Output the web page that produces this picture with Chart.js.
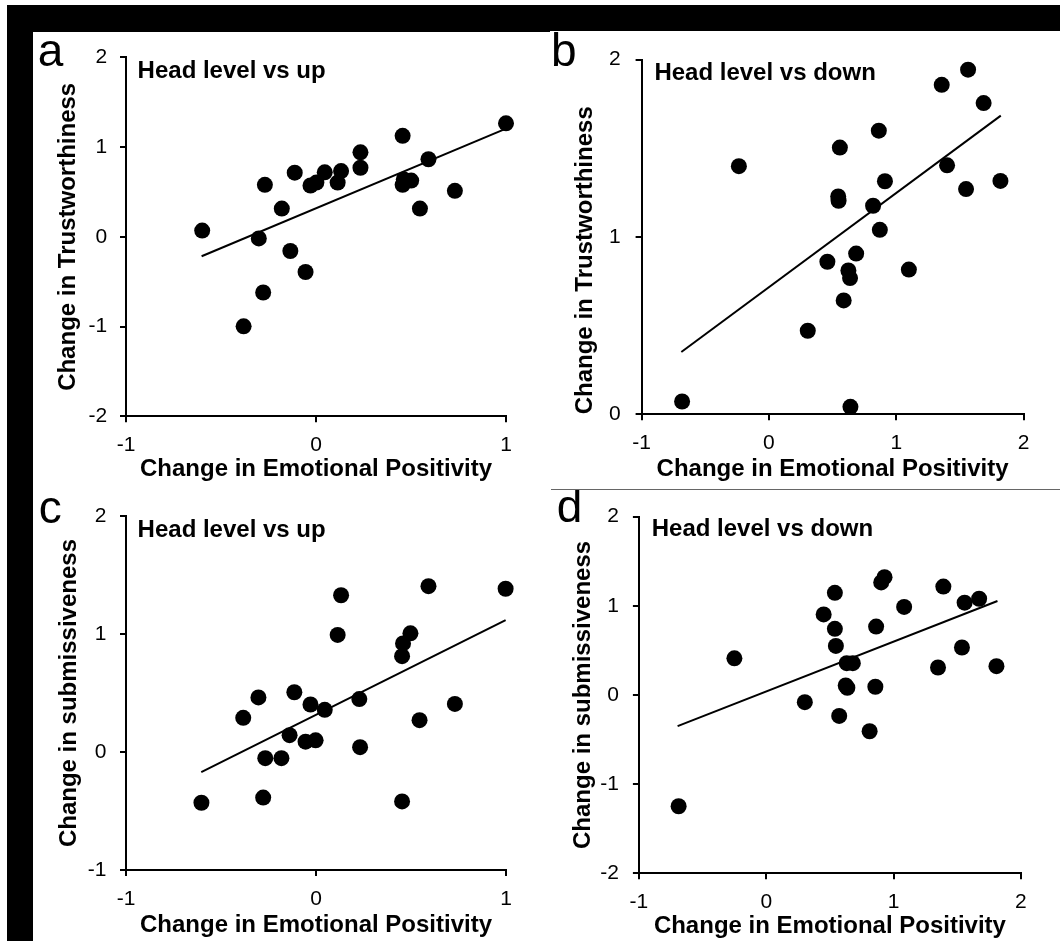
<!DOCTYPE html>
<html><head><meta charset="utf-8">
<script src="https://cdn.jsdelivr.net/npm/chart.js@4.4.1/dist/chart.umd.min.js"></script>
<style>
html,body{margin:0;padding:0;background:#fff;}
body{width:1060px;height:941px;position:relative;overflow:hidden;}
.blk{position:absolute;background:#000;}
.wrap{position:absolute;}
canvas{display:block;}
</style></head><body>
<div class="blk" style="left:7px;top:5px;width:543px;height:27px"></div>
<div class="blk" style="left:550px;top:5px;width:510px;height:26px"></div>
<div class="blk" style="left:7px;top:5px;width:26px;height:936px"></div>
<div style="position:absolute;left:551px;top:489px;width:509px;height:1px;background:#666"></div>
<div class="wrap" style="left:33px;top:32px"><canvas id="ca" width="497" height="457"></canvas></div>
<div class="wrap" style="left:530px;top:32px"><canvas id="cb" width="530" height="457"></canvas></div>
<div class="wrap" style="left:33px;top:490px"><canvas id="cc" width="497" height="451"></canvas></div>
<div class="wrap" style="left:530px;top:490px"><canvas id="cd" width="530" height="451"></canvas></div>
<script>
// ---- data ----
const panelLetters = ['a', 'b', 'c', 'd'];
const panelTitles = ['Head level vs up', 'Head level vs down', 'Head level vs up', 'Head level vs down'];
const xTitle = 'Change in Emotional Positivity';
const yTitles = ['Change in Trustworthiness', 'Change in Trustworthiness', 'Change in submissiveness', 'Change in submissiveness'];

const aX = [-0.599,-0.381,-0.301,-0.269,-0.278,-0.180,-0.135,-0.112,-0.055,-0.029,0.002,0.046,0.114,0.132,0.234,0.234,0.456,0.456,0.462,0.501,0.547,0.592,0.731,1.000];
const aY = [0.070,-0.997,-0.018,0.580,-0.620,0.315,-0.158,0.715,-0.392,0.572,0.605,0.719,0.605,0.733,0.942,0.770,1.126,0.580,0.640,0.627,0.315,0.865,0.513,1.265];
const aFitX = [-0.602, 1.000];
const aFitY = [-0.216, 1.206];

const bX = [-0.682,-0.236,0.305,0.459,0.557,0.544,0.547,0.587,0.624,0.637,0.640,0.685,0.818,0.863,0.871,0.911,1.099,1.357,1.399,1.548,1.564,1.686,1.818];
const bY = [0.072,1.399,0.471,0.860,1.504,1.228,1.204,0.642,0.811,0.768,0.042,0.906,1.176,1.599,1.040,1.314,0.816,1.858,1.404,1.270,1.943,1.755,1.316];
const bFitX = [-0.688, 1.821];
const bFitY = [0.351, 1.684];

const cX = [-0.603,-0.383,-0.303,-0.267,-0.278,-0.182,-0.139,-0.114,-0.055,-0.029,-0.002,0.046,0.114,0.132,0.228,0.232,0.453,0.458,0.453,0.497,0.545,0.592,0.731,0.998];
const cY = [-0.430,0.290,0.463,-0.052,-0.386,-0.052,0.143,0.507,0.088,0.403,0.099,0.358,0.993,1.329,0.449,0.041,0.813,0.921,-0.419,1.006,0.270,1.406,0.408,1.384];
const cFitX = [-0.604, 0.998];
const cFitY = [-0.171, 1.119];

const dX = [-0.688,-0.250,0.303,0.451,0.539,0.539,0.547,0.573,0.624,0.637,0.632,0.680,0.812,0.857,0.863,0.903,0.929,1.083,1.349,1.391,1.537,1.558,1.672,1.808];
const dY = [-1.248,0.411,-0.081,0.903,1.145,0.741,0.550,-0.235,0.106,0.081,0.356,0.356,-0.407,0.092,0.767,1.262,1.321,0.987,0.308,1.215,0.532,1.035,1.079,0.323];
const dFitX = [-0.696, 1.816];
const dFitY = [-0.349, 1.053];

const xTicksUp = [-1, 0, 1];
const xTicksDown = [-1, 0, 1, 2];
const yTicksA = [-2, -1, 0, 1, 2];
const yTicksB = [0, 1, 2];
const yTicksC = [-1, 0, 1, 2];
const yTicksD = [-2, -1, 0, 1, 2];

// ---- layout / style ----
const FONT = '"Liberation Sans", Arial, Helvetica, sans-serif';

const panelText = {
  id: 'panelText',
  afterDraw(chart, args, o) {
    const ctx = chart.ctx, ca = chart.chartArea;
    ctx.save();
    ctx.fillStyle = '#000';
    ctx.textAlign = 'left';
    ctx.textBaseline = 'alphabetic';
    ctx.font = '46px ' + FONT;
    ctx.fillText(o.letter, o.letterX, o.letterY);
    ctx.font = 'bold 24px ' + FONT;
    ctx.fillText(o.title, ca.left + o.titleDX, ca.top + o.titleDY);
    ctx.restore();
  }
};

function pts(xs, ys) { return xs.map((x, i) => ({x: x, y: ys[i]})); }

function makeChart(id, p) {
  new Chart(document.getElementById(id), {
    type: 'scatter',
    data: {
      datasets: [
        {data: pts(p.xs, p.ys), pointRadius: 8, pointBackgroundColor: '#000', pointBorderWidth: 0, pointBorderColor: '#000', showLine: false, clip: false},
        {type: 'line', data: pts(p.fx, p.fy), borderColor: '#000', borderWidth: 2, pointRadius: 0, showLine: true, fill: false, tension: 0, clip: false}
      ]
    },
    options: {
      responsive: false,
      animation: false,
      events: [],
      layout: {padding: {left: 0, top: p.padT, right: p.padR, bottom: 0}},
      plugins: {
        legend: {display: false},
        tooltip: {enabled: false},
        panelText: {letter: p.letter, letterX: p.letterX, letterY: p.letterY, title: p.title, titleDX: p.titleDX, titleDY: p.titleDY}
      },
      scales: {
        x: {
          type: 'linear', min: p.xMin, max: p.xMax,
          afterBuildTicks: s => { s.ticks = p.xTicks.map(v => ({value: v})); },
          afterFit: s => { s.height = p.xH; },
          grid: {drawOnChartArea: false, drawTicks: true, tickLength: 6, color: '#000', lineWidth: 2},
          border: {display: true, color: '#000', width: 2},
          ticks: {padding: p.xTickPad, color: '#000', font: {family: FONT, size: 21}, maxRotation: 0, autoSkip: false, callback: v => String(v)},
          title: {display: true, text: xTitle, color: '#000', font: {family: FONT, size: 24, weight: 'bold'}, padding: {top: 0, bottom: p.xTitlePad}}
        },
        y: {
          type: 'linear', min: p.yMin, max: p.yMax,
          afterBuildTicks: s => { s.ticks = p.yTicks.map(v => ({value: v})); },
          afterFit: s => { s.width = p.yW; },
          grid: {drawOnChartArea: false, drawTicks: true, tickLength: 6, color: '#000', lineWidth: 2},
          border: {display: true, color: '#000', width: 2},
          ticks: {padding: p.yTickPad, color: '#000', font: {family: FONT, size: 21}, autoSkip: false, callback: v => String(v)},
          title: {display: true, text: p.yTitle, align: p.yAlign, color: '#000', font: {family: FONT, size: 24, weight: 'bold'}, padding: {top: p.yTitlePad, bottom: 0}}
        }
      }
    },
    plugins: [panelText]
  });
}

makeChart('ca', {xs: aX, ys: aY, fx: aFitX, fy: aFitY, xMin: -1, xMax: 1, yMin: -2, yMax: 2,
  xTicks: xTicksUp, yTicks: yTicksA, padT: 20.3, padR: 24, yW: 93, xH: 72.7,
  xTickPad: 10, yTickPad: 12.8, xTitlePad: 5.6, yTitlePad: 21.2, yAlign: 'center', yTitle: yTitles[0],
  letter: panelLetters[0], letterX: 4.8, letterY: 34, title: panelTitles[0], titleDX: 11.6, titleDY: 20.4});

makeChart('cb', {xs: bX, ys: bY, fx: bFitX, fy: bFitY, xMin: -1, xMax: 2, yMin: 0, yMax: 2,
  xTicks: xTicksDown, yTicks: yTicksB, padT: 19.7, padR: 36.4, yW: 111.6, xH: 74.7,
  xTickPad: 10.4, yTickPad: 15, xTitlePad: 5.6, yTitlePad: 40.5, yAlign: 'start', yTitle: yTitles[1],
  letter: panelLetters[1], letterX: 21, letterY: 34, title: panelTitles[1], titleDX: 12.8, titleDY: 20});

makeChart('cc', {xs: cX, ys: cY, fx: cFitX, fy: cFitY, xMin: -1, xMax: 1, yMin: -1, yMax: 2,
  xTicks: xTicksUp, yTicks: yTicksC, padT: 17.3, padR: 24, yW: 93, xH: 71,
  xTickPad: 11, yTickPad: 13.5, xTitlePad: 1.1, yTitlePad: 21.8, yAlign: 'center', yTitle: yTitles[2],
  letter: panelLetters[2], letterX: 5.8, letterY: 33, title: panelTitles[2], titleDX: 11.6, titleDY: 20.4});

makeChart('cd', {xs: dX, ys: dY, fx: dFitX, fy: dFitY, xMin: -1, xMax: 2, yMin: -2, yMax: 2,
  xTicks: xTicksDown, yTicks: yTicksD, padT: 20, padR: 39.1, yW: 108.9, xH: 67.7,
  xTickPad: 10, yTickPad: 14, xTitlePad: 0.1, yTitlePad: 38.8, yAlign: 'center', yTitle: yTitles[3],
  letter: panelLetters[3], letterX: 26.7, letterY: 32, title: panelTitles[3], titleDX: 12.8, titleDY: 19.3});
</script>
</body></html>
